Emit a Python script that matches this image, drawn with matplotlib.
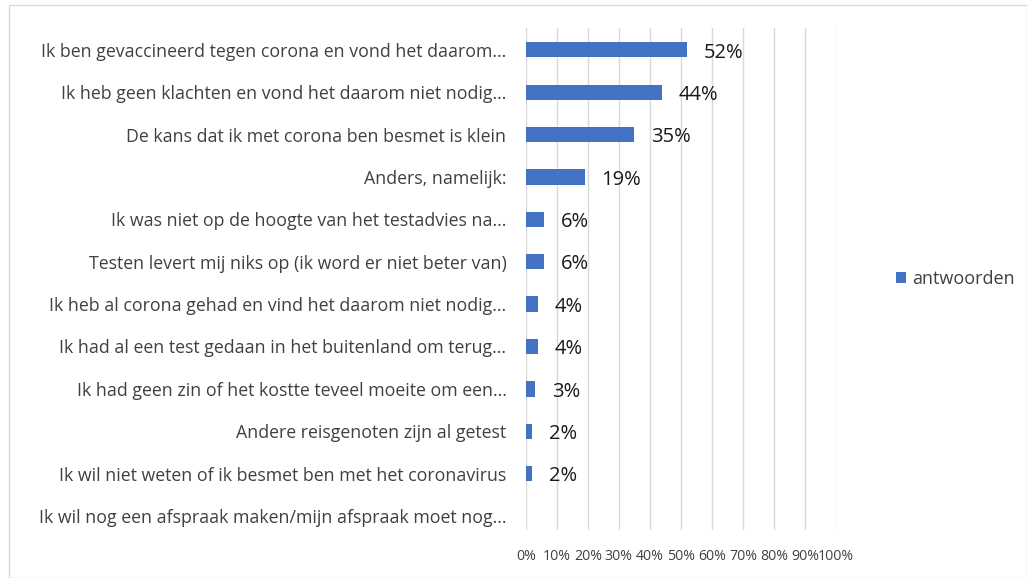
import numpy as np
import matplotlib.pyplot as plt
from matplotlib.patches import Rectangle

plt.rcParams['font.family'] = ['Open Sans', 'DejaVu Sans']

categories = [
    'Ik ben gevaccineerd tegen corona en vond het daarom...',
    'Ik heb geen klachten en vond het daarom niet nodig...',
    'De kans dat ik met corona ben besmet is klein',
    'Anders, namelijk:',
    'Ik was niet op de hoogte van het testadvies na...',
    'Testen levert mij niks op (ik word er niet beter van)',
    'Ik heb al corona gehad en vind het daarom niet nodig...',
    'Ik had al een test gedaan in het buitenland om terug...',
    'Ik had geen zin of het kostte teveel moeite om een...',
    'Andere reisgenoten zijn al getest',
    'Ik wil niet weten of ik besmet ben met het coronavirus',
    'Ik wil nog een afspraak maken/mijn afspraak moet nog...',
]
values = [52, 44, 35, 19, 6, 6, 4, 4, 3, 2, 2, 0]
value_labels = ['52%', '44%', '35%', '19%', '6%', '6%', '4%', '4%', '3%', '2%', '2%', '']
ticks = list(range(0, 101, 10))
tick_labels = [f'{t}%' for t in ticks]

fig = plt.figure(figsize=(10.27, 5.78), dpi=100)
ax = fig.add_axes([0.512, 0.083, 0.302, 0.869])

y = np.arange(len(categories))
bars = ax.barh(y, values, height=0.36, color='#4472C4', label='antwoorden', zorder=3)
for b, lab in zip(bars, value_labels):
    if lab:
        ax.annotate(lab, (b.get_width(), b.get_y() + b.get_height() / 2),
                    xytext=(12, -2), textcoords='offset points',
                    ha='left', va='center', fontsize=14.5, color='#1a1a1a')

ax.set_xlim(0, 100)
ax.set_ylim(11.33, -0.52)
ax.set_xticks(ticks)
ax.set_xticklabels(tick_labels, fontsize=10.2, color='#404040')
ax.set_yticks(y)
ax.set_yticklabels(categories, fontsize=12.8, color='#404040')
ax.tick_params(axis='x', length=0, pad=14)
ax.tick_params(axis='y', length=0, pad=14)
ax.grid(axis='x', color='#d9d9d9', linewidth=1, zorder=0)
for s in ax.spines.values():
    s.set_visible(False)

ax.legend(loc='center left', bbox_to_anchor=(1.14, 0.5), frameon=False,
          fontsize=13, handlelength=0.6, handleheight=0.6, handletextpad=0.3,
          labelcolor='#404040')

fig.patches.append(Rectangle((9 / 1027, 0), 1 - 9 / 1027, 1 - 5 / 578,
                             transform=fig.transFigure, fill=False,
                             edgecolor='#d9d9d9', linewidth=1))

fig.savefig('out.png', dpi=100)
